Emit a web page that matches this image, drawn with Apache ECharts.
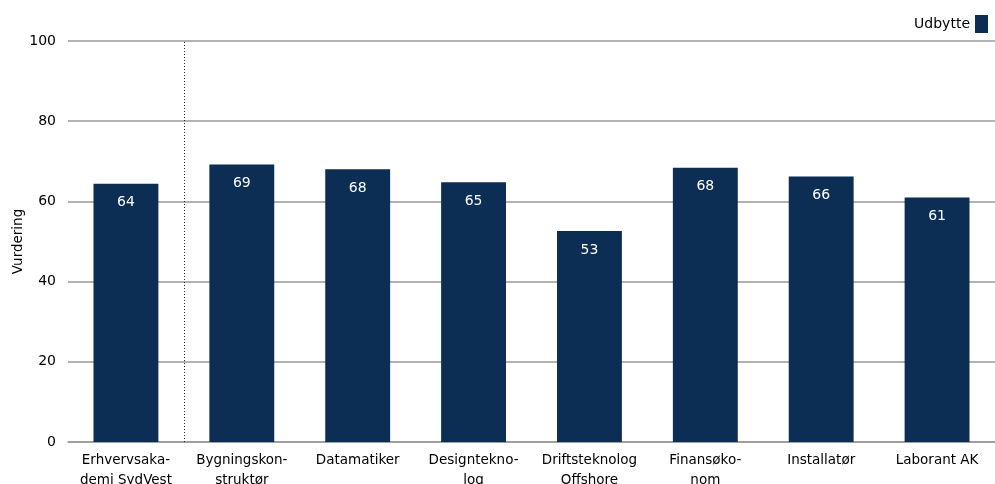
<!DOCTYPE html>
<html>
<head>
<meta charset="utf-8">
<script src="https://cdn.jsdelivr.net/npm/echarts@6/dist/echarts.min.js"></script>
<style>html,body{margin:0;padding:0;background:#fff}#c{width:995px;height:484px}</style>
</head>
<body>
<div id="c"></div>
<script>
const categories = ["Erhvervsaka-\ndemi SydVest", "Bygningskon-\nstruktør", "Datamatiker", "Designtekno-\nlog", "Driftsteknolog\nOffshore", "Finansøko-\nnom", "Installatør", "Laborant AK"];
const udbytte = [64.4, 69.2, 68.0, 64.8, 52.6, 68.4, 66.2, 61.0];
const seriesName = "Udbytte";
const yAxisName = "Vurdering";
const dividerAfter = 1; // dotted divider after the first category

const FONT = "DejaVu Sans";
const chart = echarts.init(document.getElementById('c'));
chart.setOption({
  animation: false,
  textStyle: { fontFamily: FONT },
  legend: {
    right: 2, top: 10, align: 'right',
    itemWidth: 13, itemHeight: 18, itemGap: 5,
    textStyle: { fontSize: 14, color: '#000', fontFamily: FONT },
    data: [{ name: seriesName, icon: 'rect' }]
  },
  grid: { left: 68, right: 0, top: 41, bottom: 42, containLabel: false, outerBoundsMode: 'none' },
  xAxis: [{
    type: 'category',
    data: categories,
    axisLine: { lineStyle: { color: '#999', width: 1.5 } },
    axisTick: { show: false },
    axisLabel: { fontSize: 13.5, color: '#000', fontFamily: FONT, lineHeight: 20, margin: 8, interval: 0 },
    splitLine: { show: false }
  }, {
    type: 'value', min: 0, max: categories.length, show: false,
    splitLine: { show: false }
  }],
  yAxis: {
    type: 'value', min: 0, max: 100, interval: 20,
    name: yAxisName, nameLocation: 'middle', nameGap: 43, nameMoveOverlap: false,
    nameTextStyle: { fontSize: 13.5, color: '#000', fontFamily: FONT },
    axisLine: { show: false },
    axisTick: { show: false },
    axisLabel: { fontSize: 14, color: '#000', fontFamily: FONT, margin: 12 },
    splitLine: { lineStyle: { color: '#999', width: 1.5 } }
  },
  series: [{
    name: seriesName,
    type: 'bar',
    data: udbytte,
    barWidth: '56%',
    itemStyle: { color: '#0c2d54' },
    label: {
      show: true, position: 'insideTop', distance: 12,
      color: '#fff', fontSize: 14, fontFamily: FONT,
      formatter: p => Math.round(p.value)
    }
  }, {
    name: 'divider',
    type: 'line',
    xAxisIndex: 1,
    data: [],
    silent: true,
    markLine: {
      silent: true,
      symbol: ['none', 'none'],
      label: { show: false },
      lineStyle: { type: [1, 2], color: '#222', width: 1 },
      data: [{ xAxis: dividerAfter }]
    }
  }]
});
</script>
</body>
</html>
